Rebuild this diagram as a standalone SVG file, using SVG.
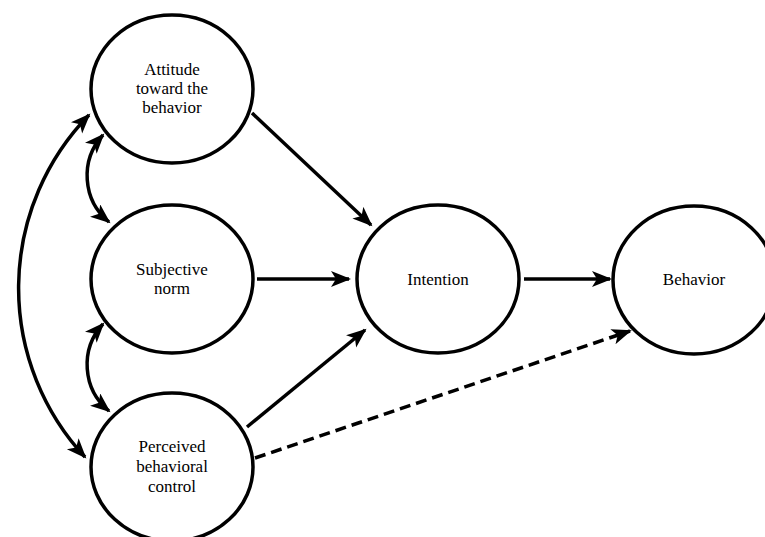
<svg xmlns="http://www.w3.org/2000/svg" width="765" height="537" viewBox="0 0 765 537">
<defs>
<style>
.node ellipse{fill:#fff;stroke:#000;stroke-width:3.5}
.node text{font-family:"Liberation Serif","Times New Roman",serif;font-size:17px;fill:#000;text-anchor:middle}
.conn path{fill:none;stroke:#000;stroke-width:3.5}
.dash{stroke-dasharray:11 6}
</style>
<marker id="ah" markerUnits="userSpaceOnUse" markerWidth="22" markerHeight="18" refX="18" refY="8" orient="auto-start-reverse" viewBox="0 0 22 18">
<path d="M0,0 L20,8 L0,16 L5,8 z" fill="#000"/>
</marker>
</defs>
<rect width="765" height="537" fill="#fff"/>
<g class="conn" id="connectors">
<path d="M252,113 L371,225" marker-end="url(#ah)"/>
<path d="M257,279 L349,279" marker-end="url(#ah)"/>
<path d="M524,279 L610,279" marker-end="url(#ah)"/>
<path d="M247,427 L365,330" marker-end="url(#ah)"/>
<path class="dash" d="M255,458 L630,331" marker-end="url(#ah)"/>
<path d="M89,115 A248,248 0 0 0 85,457" marker-start="url(#ah)" marker-end="url(#ah)"/>
<path d="M103,135 A60,60 0 0 0 109,222" marker-start="url(#ah)" marker-end="url(#ah)"/>
<path d="M103,324 A60,60 0 0 0 109,411" marker-start="url(#ah)" marker-end="url(#ah)"/>
</g>
<g class="node" id="attitude">
<ellipse cx="172" cy="89" rx="81" ry="74"/>
<text x="172" y="75">Attitude</text>
<text x="172" y="94">toward the</text>
<text x="172" y="113">behavior</text>
</g>
<g class="node" id="subjective-norm">
<ellipse cx="172" cy="279" rx="81" ry="74"/>
<text x="172" y="275">Subjective</text>
<text x="172" y="294">norm</text>
</g>
<g class="node" id="perceived-control">
<ellipse cx="172" cy="467" rx="81" ry="74"/>
<text x="172" y="452">Perceived</text>
<text x="172" y="472">behavioral</text>
<text x="172" y="492">control</text>
</g>
<g class="node" id="intention">
<ellipse cx="438" cy="279" rx="81" ry="74"/>
<text x="438" y="285">Intention</text>
</g>
<g class="node" id="behavior">
<ellipse cx="694" cy="280" rx="81" ry="74"/>
<text x="694" y="285">Behavior</text>
</g>
</svg>
